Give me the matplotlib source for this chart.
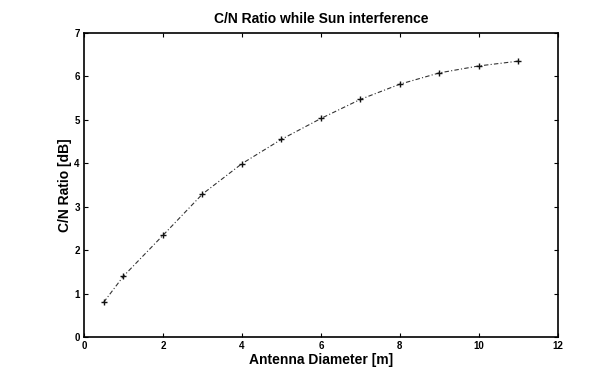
import matplotlib.pyplot as plt

# antenna diameter [m] and C/N ratio [dB]
diameter = [0.5, 1, 2, 3, 4, 5, 6, 7, 8, 9, 10, 11]
cn_ratio = [0.8, 1.4, 2.34, 3.29, 3.99, 4.55, 5.03, 5.47, 5.82, 6.08, 6.24, 6.35]

plt.rcParams['font.family'] = ['Liberation Sans', 'DejaVu Sans']

fig = plt.figure(figsize=(6.13, 3.74), dpi=100)
ax = fig.add_axes([0.137, 0.099, 0.773, 0.813])

ax.plot(diameter, cn_ratio, color='#333333', linestyle=(0, (4, 2, 1, 2)), linewidth=0.8,
        marker='+', markersize=5, markeredgewidth=1.0, markeredgecolor='#111111')

ax.set_xlim(0, 12)
ax.set_ylim(0, 7)
ax.set_xticks(range(0, 13, 2))
ax.set_yticks(range(0, 8))
ax.tick_params(direction='in', top=True, right=True, length=3, labelsize=7, pad=3)
for lbl in ax.get_xticklabels() + ax.get_yticklabels():
    lbl.set_fontweight('bold')
for s in ax.spines.values():
    s.set_linewidth(1.2)

ax.set_title('C/N Ratio while Sun interference', fontsize=10, fontweight='bold', pad=7)
ax.set_xlabel('Antenna Diameter [m]', fontsize=10, fontweight='bold', labelpad=1)
ax.set_ylabel('C/N Ratio [dB]', fontsize=10, fontweight='bold', labelpad=2)

fig.savefig('out.png', dpi=100)
